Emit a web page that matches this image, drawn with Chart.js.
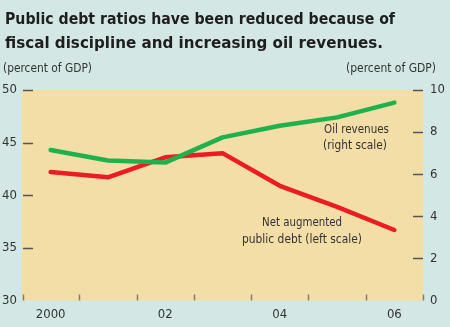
<!DOCTYPE html>
<html>
<head>
<meta charset="utf-8">
<script src="https://cdn.jsdelivr.net/npm/chart.js@4.4.1/dist/chart.umd.min.js"></script>
<style>
  html, body { margin: 0; padding: 0; background: #d3e7e5; }
  #wrap { width: 450px; height: 327px; position: relative; }
</style>
</head>
<body>
<div id="wrap"><canvas id="myChart" width="450" height="327"></canvas></div>
<script>
const years = ["2000", "2001", "2002", "2003", "2004", "2005", "2006"];
const xTickLabels = ["2000", "", "02", "", "04", "", "06"];
// left scale, percent of GDP
const publicDebt = [42.2, 41.7, 43.6, 44.0, 40.9, 38.9, 36.7];
// right scale, percent of GDP
const oilRevenues = [7.15, 6.65, 6.55, 7.75, 8.3, 8.7, 9.4];
const leftTicks = [30, 35, 40, 45, 50];
const rightTicks = [0, 2, 4, 6, 8, 10];

const titleLines = [
    "Public debt ratios have been reduced because of",
    "fiscal discipline and increasing oil revenues."
];

const NARROW = "'DejaVu Sans Condensed', 'DejaVu Sans', sans-serif";

// draw text squeezed to a given width (x = left edge)
function fitText(ctx, text, x, y, width) {
    const w = ctx.measureText(text).width;
    ctx.save();
    ctx.translate(x, y);
    ctx.scale(width / w, 1);
    ctx.textAlign = "left";
    ctx.fillText(text, 0, 0);
    ctx.restore();
}

const decor = {
    id: "decor",
    beforeDraw(chart) {
        const { ctx, chartArea: a } = chart;
        ctx.save();
        ctx.fillStyle = "#f4dea8";
        ctx.fillRect(a.left, a.top, a.right - a.left, a.bottom - a.top);
        ctx.restore();
    },
    beforeDatasetsDraw(chart) {
        const { ctx, chartArea: a, scales } = chart;
        ctx.save();
        // tick marks drawn inside the plot
        ctx.lineWidth = 1.5;
        ctx.strokeStyle = "#555";
        for (const v of leftTicks) {
            if (v === 30) continue;
            const y = Math.round(scales.y.getPixelForValue(v)) + 0.5;
            ctx.beginPath();
            ctx.moveTo(a.left + 1, y);
            ctx.lineTo(a.left + 11, y);
            ctx.stroke();
        }
        for (const v of rightTicks) {
            if (v === 0) continue;
            const y = Math.round(scales.y2.getPixelForValue(v)) + 0.5;
            ctx.beginPath();
            ctx.moveTo(a.right - 10, y);
            ctx.lineTo(a.right, y);
            ctx.stroke();
        }
        ctx.strokeStyle = "#8a7c62";
        for (let i = 0; i <= years.length; i++) {
            let x;
            if (i === 0) x = a.left + 1;
            else if (i === years.length) x = a.right;
            else x = (scales.x.getPixelForValue(i - 1) + scales.x.getPixelForValue(i)) / 2;
            x = Math.round(x) + 0.5;
            ctx.beginPath();
            ctx.moveTo(x, a.bottom - 6);
            ctx.lineTo(x, a.bottom);
            ctx.stroke();
        }
        ctx.restore();
    },
    afterDraw(chart) {
        const { ctx } = chart;
        ctx.save();
        ctx.textBaseline = "alphabetic";
        ctx.fillStyle = "#1e1e1e";
        ctx.font = "bold 16.5px " + NARROW;
        fitText(ctx, titleLines[0], 5, 24, 390);
        fitText(ctx, titleLines[1], 5, 48, 378);

        ctx.fillStyle = "#333";
        ctx.font = "12px " + NARROW;
        fitText(ctx, "(percent of GDP)", 3, 72, 89);
        fitText(ctx, "(percent of GDP)", 346, 72, 90);

        ctx.font = "12px " + NARROW;
        fitText(ctx, "Oil revenues", 324, 133, 65);
        fitText(ctx, "(right scale)", 323, 149, 64);
        fitText(ctx, "Net augmented", 262, 226, 80);
        fitText(ctx, "public debt (left scale)", 242, 242.5, 120);
        ctx.restore();
    }
};

const config = {
    type: "line",
    data: {
        labels: years,
        datasets: [
            {
                label: "Oil revenues (right scale)",
                data: oilRevenues,
                yAxisID: "y2",
                borderColor: "#1fb14b",
                borderWidth: 4.5,
                pointRadius: 0,
                tension: 0,
                borderCapStyle: "round",
                borderJoinStyle: "round"
            },
            {
                label: "Net augmented public debt (left scale)",
                data: publicDebt,
                yAxisID: "y",
                borderColor: "#ec1c24",
                borderWidth: 4.5,
                pointRadius: 0,
                tension: 0,
                borderCapStyle: "round",
                borderJoinStyle: "round"
            }
        ]
    },
    options: {
        responsive: false,
        animation: false,
        layout: { padding: { top: 90, left: 0, right: 0, bottom: 0 } },
        plugins: {
            legend: { display: false },
            title: { display: false },
            tooltip: { enabled: false }
        },
        scales: {
            x: {
                offset: true,
                grid: { display: false, drawTicks: false },
                border: { display: false },
                ticks: {
                    autoSkip: false,
                    maxRotation: 0,
                    padding: 6,
                    color: "#333",
                    font: { family: NARROW, size: 13 },
                    callback: (v, i) => xTickLabels[i]
                },
                afterFit: (s) => { s.height = 26.5; }
            },
            y: {
                position: "left",
                min: 30,
                max: 50,
                afterBuildTicks: (s) => { s.ticks = leftTicks.map(v => ({ value: v })); },
                grid: { display: false, drawTicks: false },
                border: { display: false },
                ticks: {
                    padding: 5,
                    color: "#333",
                    font: { family: NARROW, size: 13 }
                },
                afterFit: (s) => { s.width = 22; }
            },
            y2: {
                position: "right",
                min: 0,
                max: 10,
                afterBuildTicks: (s) => { s.ticks = rightTicks.map(v => ({ value: v })); },
                grid: { display: false, drawTicks: false },
                border: { display: false },
                ticks: {
                    padding: 7,
                    color: "#333",
                    font: { family: NARROW, size: 13 }
                },
                afterFit: (s) => { s.width = 27; }
            }
        }
    },
    plugins: [decor]
};

const myChart = new Chart(document.getElementById("myChart"), config);
</script>
</body>
</html>
